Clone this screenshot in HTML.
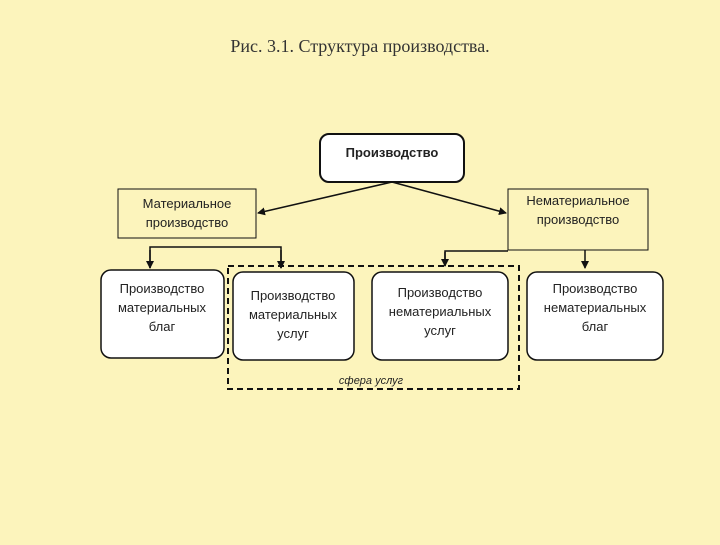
<!DOCTYPE html>
<html><head><meta charset="utf-8"><style>
body{margin:0;width:720px;height:540px;background:#fcf4bc;overflow:hidden}
svg text{font-family:"Liberation Sans","DejaVu Sans",sans-serif;font-size:13px;fill:#222}
</style></head><body>
<svg width="720" height="540" xmlns="http://www.w3.org/2000/svg">
<defs><marker id="a" markerWidth="8" markerHeight="8" refX="7" refY="4" orient="auto" markerUnits="userSpaceOnUse"><path d="M0,0 L8,4 L0,8z" fill="#111"/></marker></defs>
<text x="360" y="52" text-anchor="middle" style="font-family:'Liberation Serif',serif;font-size:18px;fill:#333">Рис. 3.1. Структура производства.</text>
<rect x="320" y="134" width="144" height="48" rx="9" fill="#fff" stroke="#111" stroke-width="2"/>
<text x="392" y="157" text-anchor="middle" font-weight="bold">Производство</text>
<rect x="118" y="189" width="138" height="49" fill="#fcf4bc" stroke="#111"/>
<text x="187" y="208" text-anchor="middle">Материальное</text>
<text x="187" y="227" text-anchor="middle">производство</text>
<rect x="508" y="189" width="140" height="61" fill="#fcf4bc" stroke="#111"/>
<text x="578" y="205" text-anchor="middle">Нематериальное</text>
<text x="578" y="224" text-anchor="middle">производство</text>
<line x1="392" y1="182" x2="258" y2="213" stroke="#111" stroke-width="1.5" marker-end="url(#a)"/>
<line x1="392" y1="182" x2="506" y2="213" stroke="#111" stroke-width="1.5" marker-end="url(#a)"/>
<path d="M150,268 V247 H281 V268" fill="none" stroke="#111" stroke-width="1.5"/>
<line x1="150" y1="250" x2="150" y2="268" stroke="#111" stroke-width="1.5" marker-end="url(#a)"/>
<line x1="281" y1="250" x2="281" y2="268" stroke="#111" stroke-width="1.5" marker-end="url(#a)"/>
<path d="M508,251 H445 V266" fill="none" stroke="#111" stroke-width="1.5"/>
<line x1="445" y1="252" x2="445" y2="266" stroke="#111" stroke-width="1.5" marker-end="url(#a)"/>
<line x1="585" y1="250" x2="585" y2="268" stroke="#111" stroke-width="1.5" marker-end="url(#a)"/>
<rect x="228" y="266" width="291" height="123" fill="none" stroke="#111" stroke-width="2" stroke-dasharray="6,4"/>
<rect x="101" y="270" width="123" height="88" rx="10" fill="#fff" stroke="#111" stroke-width="1.5"/>
<text x="162" y="293" text-anchor="middle">Производство</text>
<text x="162" y="312" text-anchor="middle">материальных</text>
<text x="162" y="331" text-anchor="middle">благ</text>
<rect x="233" y="272" width="121" height="88" rx="10" fill="#fff" stroke="#111" stroke-width="1.5"/>
<text x="293" y="300" text-anchor="middle">Производство</text>
<text x="293" y="319" text-anchor="middle">материальных</text>
<text x="293" y="338" text-anchor="middle">услуг</text>
<rect x="372" y="272" width="136" height="88" rx="10" fill="#fff" stroke="#111" stroke-width="1.5"/>
<text x="440" y="297" text-anchor="middle">Производство</text>
<text x="440" y="316" text-anchor="middle">нематериальных</text>
<text x="440" y="335" text-anchor="middle">услуг</text>
<rect x="527" y="272" width="136" height="88" rx="10" fill="#fff" stroke="#111" stroke-width="1.5"/>
<text x="595" y="293" text-anchor="middle">Производство</text>
<text x="595" y="312" text-anchor="middle">нематериальных</text>
<text x="595" y="331" text-anchor="middle">благ</text>
<text x="371" y="384" text-anchor="middle" font-style="italic" style="font-size:11px">сфера услуг</text>
</svg>
</body></html>
